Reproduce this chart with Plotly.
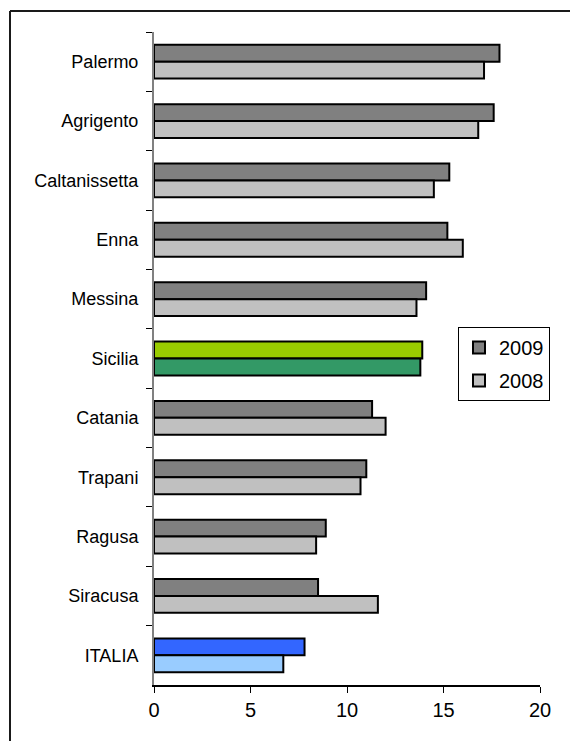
import plotly.graph_objects as go

# Provinces of Sicily, plus regional and national totals
categories = ["Palermo", "Agrigento", "Caltanissetta", "Enna", "Messina", "Sicilia",
              "Catania", "Trapani", "Ragusa", "Siracusa", "ITALIA"]
values_2009 = [17.9, 17.6, 15.3, 15.2, 14.1, 13.9, 11.3, 11.0, 8.9, 8.5, 7.8]
values_2008 = [17.1, 16.8, 14.5, 16.0, 13.6, 13.8, 12.0, 10.7, 8.4, 11.6, 6.7]
x_ticks = [0, 5, 10, 15, 20]

# Special colours for the regional and national aggregates
highlight_2009 = {"Sicilia": "#99CC00", "ITALIA": "#3366FF"}
highlight_2008 = {"Sicilia": "#339966", "ITALIA": "#99CCFF"}
colors_2009 = [highlight_2009.get(c, "#808080") for c in categories]
colors_2008 = [highlight_2008.get(c, "#C0C0C0") for c in categories]

W, H = 571, 742
ML, MR, MT, MB = 154, 31, 32, 57
pw, ph = W - ML - MR, H - MT - MB

fig = go.Figure()
fig.add_trace(go.Bar(
    y=categories, x=values_2009, orientation="h", name="2009",
    legendgroup="a",
    marker=dict(color=colors_2009, line=dict(color="#000000", width=2)),
))
fig.add_trace(go.Bar(
    y=categories, x=values_2008, orientation="h", name="2008",
    legendgroup="b",
    marker=dict(color=colors_2008, line=dict(color="#000000", width=2)),
))

def px_x(p):
    return (p - ML) / pw

def px_y(p):
    return (H - MB - p) / ph

# Outer frame: top and left edges
frame = dict(type="line", xref="paper", yref="paper",
             line=dict(color="#1a1a1a", width=2), layer="below")

fig.update_layout(
    width=W, height=H,
    margin=dict(l=ML, r=MR, t=MT, b=MB),
    paper_bgcolor="white", plot_bgcolor="white",
    barmode="group", bargap=0.43, bargroupgap=0,
    font=dict(family="Liberation Sans, Arial, sans-serif", color="#000000"),
    xaxis=dict(
        range=[0, 20], tickvals=x_ticks, ticktext=[str(v) for v in x_ticks],
        showgrid=False, zeroline=False,
        showline=True, linecolor="#000000", linewidth=1.5,
        ticks="outside", ticklen=6, tickcolor="#000000", tickwidth=1,
        tickfont=dict(size=20), ticklabelstandoff=0,
    ),
    yaxis=dict(
        autorange="reversed", showgrid=False, zeroline=False,
        showline=True, linecolor="#808080", linewidth=2,
        ticks="outside", tickson="boundaries", ticklen=6,
        tickcolor="#000000", tickwidth=1,
        tickfont=dict(size=18), ticklabelstandoff=10,
    ),
    legend=dict(
        x=px_x(458), y=px_y(327), xanchor="left", yanchor="top",
        bgcolor="white", bordercolor="#000000", borderwidth=1,
        font=dict(size=20), tracegroupgap=4, itemwidth=30,
    ),
    shapes=[
        dict(frame, x0=px_x(10), x1=px_x(W - 1), y0=px_y(11), y1=px_y(11)),
        dict(frame, x0=px_x(10), x1=px_x(10), y0=px_y(11), y1=px_y(H - 1)),
    ],
)

fig.write_html("out.html")
